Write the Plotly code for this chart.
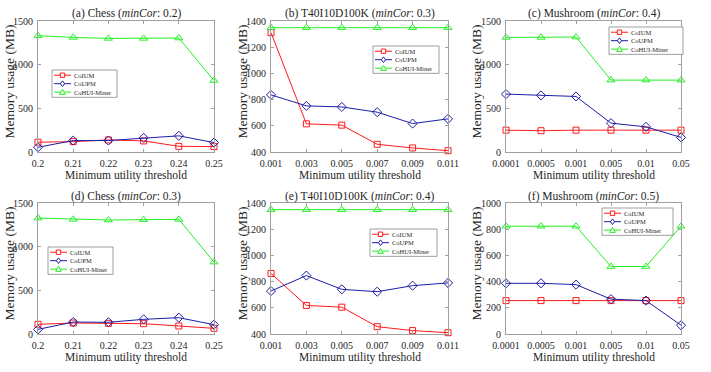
import plotly.graph_objects as go

W, H = 711, 372

# ---------------- data ----------------
chess_x = ["0.2", "0.21", "0.22", "0.23", "0.24", "0.25"]
t40_x = ["0.001", "0.003", "0.005", "0.007", "0.009", "0.011"]
mush_x = ["0.0001", "0.0005", "0.001", "0.005", "0.01", "0.05"]

series_names = ["CoIUM", "CoUPM", "CoHUI-Miner"]

a_coium = [112, 119, 138, 127, 65, 62]
a_coupm = [54, 131, 131, 162, 185, 108]
a_cohui = [1332, 1312, 1301, 1301, 1305, 819]

b_coium = [1311, 615, 605, 459, 431, 410]
b_coupm = [836, 752, 744, 704, 617, 653]
b_cohui = [1349, 1349, 1349, 1349, 1349, 1349]

c_coium = [250, 244, 250, 250, 250, 250]
c_coupm = [663, 648, 636, 330, 288, 167]
c_cohui = [1312, 1312, 1316, 823, 823, 823]

d_coium = [111, 126, 122, 118, 92, 65]
d_coupm = [53, 137, 134, 168, 187, 107]
d_cohui = [1328, 1313, 1305, 1309, 1313, 823]

e_coium = [862, 618, 605, 456, 426, 410]
e_coupm = [728, 846, 741, 723, 769, 790]
e_cohui = [1349, 1349, 1349, 1349, 1349, 1349]

f_coium = [255, 255, 255, 255, 255, 255]
f_coupm = [387, 387, 377, 266, 255, 67]
f_cohui = [823, 823, 823, 515, 515, 823]

panels = [
    ("(a) Chess (<i>minCor</i>: 0.2)", chess_x, [a_coium, a_coupm, a_cohui], [0, 1500], 500),
    ("(b) T40I10D100K (<i>minCor</i>: 0.3)", t40_x, [b_coium, b_coupm, b_cohui], [400, 1400], 200),
    ("(c) Mushroom (<i>minCor</i>: 0.4)", mush_x, [c_coium, c_coupm, c_cohui], [0, 1500], 500),
    ("(d) Chess (<i>minCor</i>: 0.3)", chess_x, [d_coium, d_coupm, d_cohui], [0, 1500], 500),
    ("(e) T40I10D100K (<i>minCor</i>: 0.4)", t40_x, [e_coium, e_coupm, e_cohui], [400, 1400], 200),
    ("(f) Mushroom (<i>minCor</i>: 0.5)", mush_x, [f_coium, f_coupm, f_cohui], [0, 1000], 200),
]

# ---------------- styles / layout ----------------
colors = ["#ff1a1a", "#1c1ca8", "#22f022"]
symbols = ["square-open", "diamond-open", "triangle-up-open"]
msizes = [6, 7, 7]
FONT = "Liberation Serif"
AXC = "#a0a0a0"
TXT = "#262626"

cols = [(38, 214), (271, 448), (506, 681)]
rows = [(21, 152), (203, 334)]
ytitle_x = [9, 242, 476]
legend_boxes = [(52, 70, 117), (373, 46, 439), (609, 27, 683),
                (48, 247, 113), (370, 229, 437), (602, 208, 673)]
LEG_FS = 6.5


def px(x):
    return x / W


def py(y):
    return 1 - y / H


fig = go.Figure()
annotations = []
shapes = []

for i, (title, xc, ser, yr, dt) in enumerate(panels):
    r, c = divmod(i, 3)
    xa = "x" if i == 0 else f"x{i+1}"
    ya = "y" if i == 0 else f"y{i+1}"
    for k in range(3):
        fig.add_trace(go.Scatter(
            x=xc, y=ser[k], xaxis=xa, yaxis=ya, mode="lines+markers",
            name=series_names[k], showlegend=False, cliponaxis=False,
            line=dict(color=colors[k], width=1),
            marker=dict(symbol=symbols[k], size=msizes[k], color=colors[k],
                        line=dict(width=1, color=colors[k])),
        ))
    x0, x1 = cols[c]
    y0, y1 = rows[r]
    common = dict(showline=True, linecolor=AXC, linewidth=1, mirror="ticks",
                  ticks="inside", ticklen=3, tickcolor=AXC, showgrid=False,
                  zeroline=False, automargin=False,
                  tickfont=dict(family=FONT, size=10, color=TXT))
    fig.layout[xa.replace("x", "xaxis")] = dict(
        domain=[px(x0), px(x1)], anchor=ya, type="category",
        categoryarray=xc, range=[0, len(xc) - 1], ticklabelstandoff=2, **common)
    fig.layout[ya.replace("y", "yaxis")] = dict(
        domain=[py(y1), py(y0)], anchor=xa, range=yr, dtick=dt,
        ticklabelstandoff=2, **common)

    cx = (x0 + x1) / 2
    annotations.append(dict(text=title, x=px(cx), y=py(y0 - 7), xref="paper", yref="paper",
                            showarrow=False, xanchor="center", yanchor="middle",
                            font=dict(family=FONT, size=11.5, color=TXT)))
    annotations.append(dict(text="Minimum utility threshold", x=px(cx), y=py(y1 + 23),
                            xref="paper", yref="paper", showarrow=False,
                            xanchor="center", yanchor="middle",
                            font=dict(family=FONT, size=11.5, color=TXT)))
    annotations.append(dict(text="Memory usage (MB)", x=px(ytitle_x[c]), y=py((y0 + y1) / 2 - 5),
                            xref="paper", yref="paper", showarrow=False, textangle=-90,
                            xanchor="center", yanchor="middle",
                            font=dict(family=FONT, size=13.5, color=TXT)))

    # custom compact legend
    lx0, ly0, lx1 = legend_boxes[i]
    step = LEG_FS * 1.3
    ly1 = ly0 + 3 * step + 2
    lyc = (ly0 + ly1) / 2
    shapes.append(dict(type="rect", xref="paper", yref="paper",
                       x0=px(lx0), x1=px(lx1), y0=py(ly1), y1=py(ly0),
                       line=dict(color="#777777", width=0.7), fillcolor="white", layer="above"))
    for k in range(3):
        yy = lyc + (k - 1) * step
        sx0, sx1 = lx0 + 2, lx0 + 19
        mx = (sx0 + sx1) / 2
        shapes.append(dict(type="line", xref="paper", yref="paper",
                           x0=px(sx0), x1=px(sx1), y0=py(yy), y1=py(yy),
                           line=dict(color=colors[k], width=1), layer="above"))
        if k == 0:
            s = 2.2
            shapes.append(dict(type="rect", xref="paper", yref="paper",
                               x0=px(mx - s), x1=px(mx + s), y0=py(yy + s), y1=py(yy - s),
                               line=dict(color=colors[k], width=1), fillcolor="white", layer="above"))
        elif k == 1:
            s = 2.8
            path = (f"M{px(mx)},{py(yy - s)} L{px(mx + s * 0.75)},{py(yy)} "
                    f"L{px(mx)},{py(yy + s)} L{px(mx - s * 0.75)},{py(yy)} Z")
            shapes.append(dict(type="path", xref="paper", yref="paper", path=path,
                               line=dict(color=colors[k], width=1), fillcolor="white", layer="above"))
        else:
            s = 2.8
            path = (f"M{px(mx)},{py(yy - s)} L{px(mx + s)},{py(yy + s * 0.8)} "
                    f"L{px(mx - s)},{py(yy + s * 0.8)} Z")
            shapes.append(dict(type="path", xref="paper", yref="paper", path=path,
                               line=dict(color=colors[k], width=1), fillcolor="white", layer="above"))
    annotations.append(dict(text="<br>".join(series_names), x=px(lx0 + 21), y=py(lyc),
                            xref="paper", yref="paper", showarrow=False, align="left",
                            xanchor="left", yanchor="middle", borderpad=0,
                            font=dict(family=FONT, size=LEG_FS, color=TXT)))

fig.update_layout(
    template="none",
    width=W, height=H, margin=dict(l=0, r=0, t=0, b=0, pad=0, autoexpand=False),
    paper_bgcolor="white", plot_bgcolor="white",
    showlegend=False, annotations=annotations, shapes=shapes,
    font=dict(family=FONT, color=TXT),
)

fig.write_html("out.html", config={"displayModeBar": False},
               post_script="document.body.style.margin='0px';")
